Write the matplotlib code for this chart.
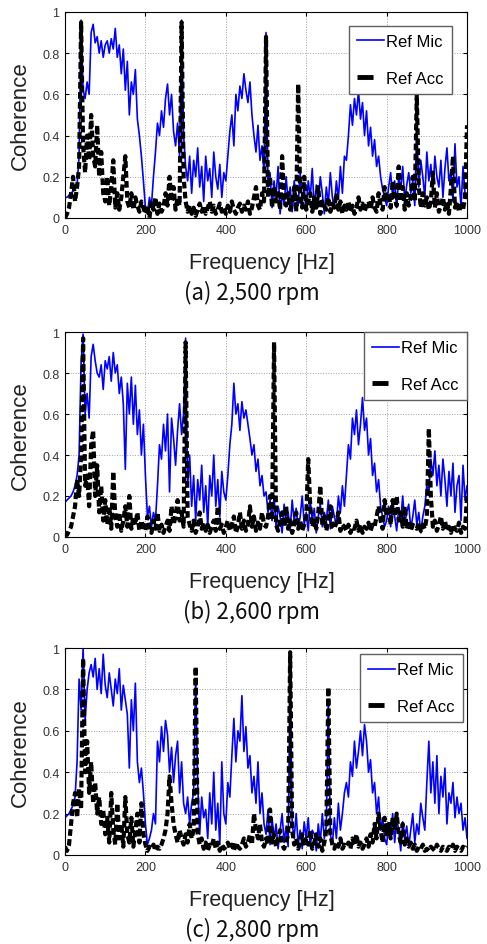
import numpy as np
import matplotlib
matplotlib.use("Agg")
from matplotlib import pyplot as plt
from matplotlib.lines import Line2D

freq = np.arange(0, 1001, 5)

# (a) 2,500 rpm
mic_2500 = [
    0.10, 0.10, 0.11, 0.12, 0.13, 0.14, 0.16, 0.30, 0.96, 0.62, 0.58, 0.66, 0.60, 0.90, 0.94, 0.85, 0.88, 0.80, 0.86, 0.78,
    0.84, 0.86, 0.80, 0.87, 0.82, 0.92, 0.78, 0.84, 0.70, 0.82, 0.62, 0.76, 0.50, 0.66, 0.60, 0.72, 0.48, 0.40, 0.30, 0.18,
    0.05, 0.02, 0.10, 0.06, 0.20, 0.32, 0.46, 0.40, 0.52, 0.44, 0.58, 0.65, 0.50, 0.60, 0.42, 0.35, 0.46, 0.30, 0.96, 0.40,
    0.25, 0.18, 0.30, 0.12, 0.28, 0.20, 0.34, 0.15, 0.25, 0.08, 0.30, 0.18, 0.24, 0.10, 0.32, 0.20, 0.14, 0.26, 0.10, 0.22,
    0.18, 0.30, 0.42, 0.50, 0.35, 0.60, 0.52, 0.64, 0.58, 0.70, 0.62, 0.56, 0.66, 0.50, 0.40, 0.32, 0.45, 0.28, 0.35, 0.22,
    0.90, 0.15, 0.22, 0.05, 0.18, 0.10, 0.25, 0.02, 0.12, 0.06, 0.20, 0.08, 0.15, 0.03, 0.18, 0.10, 0.06, 0.22, 0.08, 0.14,
    0.05, 0.18, 0.10, 0.24, 0.04, 0.16, 0.08, 0.20, 0.12, 0.02, 0.15, 0.07, 0.22, 0.10, 0.05, 0.18, 0.09, 0.25, 0.12, 0.30,
    0.28, 0.40, 0.55, 0.45, 0.58, 0.50, 0.62, 0.48, 0.56, 0.40, 0.52, 0.35, 0.44, 0.30, 0.38, 0.25, 0.30, 0.20, 0.14, 0.10,
    0.06, 0.15, 0.22, 0.10, 0.18, 0.05, 0.20, 0.14, 0.25, 0.08, 0.16, 0.22, 0.12, 0.18, 0.06, 0.45, 0.15, 0.28, 0.20, 0.10,
    0.32, 0.18, 0.26, 0.12, 0.30, 0.20, 0.15, 0.28, 0.10, 0.24, 0.34, 0.18, 0.22, 0.08, 0.36, 0.15, 0.20, 0.05, 0.25, 0.12,
    0.10,
]
acc_2500 = [
    0.00, 0.02, 0.05, 0.12, 0.20, 0.08, 0.15, 0.25, 0.95, 0.35, 0.22, 0.40, 0.28, 0.50, 0.30, 0.25, 0.45, 0.20, 0.32, 0.12,
    0.08, 0.20, 0.06, 0.15, 0.28, 0.05, 0.12, 0.04, 0.10, 0.20, 0.30, 0.08, 0.05, 0.12, 0.04, 0.10, 0.06, 0.03, 0.08, 0.05,
    0.02, 0.06, 0.00, 0.08, 0.04, 0.10, 0.02, 0.07, 0.03, 0.05, 0.12, 0.06, 0.20, 0.08, 0.15, 0.04, 0.10, 0.06, 0.95, 0.20,
    0.08, 0.03, 0.06, 0.02, 0.05, 0.01, 0.04, 0.07, 0.03, 0.06, 0.02, 0.05, 0.08, 0.03, 0.06, 0.02, 0.04, 0.07, 0.03, 0.05,
    0.02, 0.06, 0.03, 0.08, 0.04, 0.02, 0.05, 0.07, 0.03, 0.06, 0.04, 0.08, 0.02, 0.05, 0.10, 0.15, 0.06, 0.04, 0.12, 0.08,
    0.88, 0.10, 0.20, 0.05, 0.15, 0.08, 0.12, 0.04, 0.30, 0.10, 0.06, 0.12, 0.04, 0.08, 0.15, 0.03, 0.65, 0.10, 0.05, 0.20,
    0.04, 0.08, 0.12, 0.03, 0.10, 0.05, 0.15, 0.02, 0.08, 0.06, 0.04, 0.10, 0.03, 0.07, 0.05, 0.12, 0.04, 0.08, 0.02, 0.06,
    0.04, 0.08, 0.03, 0.06, 0.02, 0.05, 0.10, 0.04, 0.07, 0.03, 0.06, 0.08, 0.04, 0.10, 0.05, 0.03, 0.12, 0.06, 0.04, 0.15,
    0.08, 0.12, 0.05, 0.18, 0.10, 0.06, 0.25, 0.08, 0.15, 0.04, 0.12, 0.06, 0.10, 0.20, 0.08, 0.60, 0.15, 0.05, 0.12, 0.06,
    0.10, 0.04, 0.08, 0.22, 0.05, 0.12, 0.03, 0.06, 0.10, 0.04, 0.08, 0.02, 0.15, 0.30, 0.05, 0.08, 0.03, 0.06, 0.04, 0.10,
    0.45,
]

# (b) 2,600 rpm
mic_2600 = [
    0.17, 0.18, 0.19, 0.20, 0.22, 0.25, 0.30, 0.40, 0.85, 0.99, 0.60, 0.70, 0.58, 0.88, 0.94, 0.86, 0.80, 0.78, 0.84, 0.72,
    0.86, 0.82, 0.88, 0.76, 0.90, 0.80, 0.84, 0.70, 0.78, 0.65, 0.33, 0.75, 0.60, 0.78, 0.55, 0.74, 0.50, 0.62, 0.40, 0.55,
    0.30, 0.10, 0.15, 0.05, 0.12, 0.08, 0.25, 0.45, 0.38, 0.55, 0.42, 0.60, 0.22, 0.58, 0.48, 0.35, 0.52, 0.65, 0.50, 0.60,
    0.97, 0.25, 0.40, 0.15, 0.30, 0.08, 0.28, 0.18, 0.35, 0.12, 0.25, 0.05, 0.30, 0.20, 0.40, 0.15, 0.28, 0.10, 0.32, 0.22,
    0.18, 0.30, 0.45, 0.55, 0.75, 0.60, 0.65, 0.52, 0.66, 0.58, 0.62, 0.55, 0.48, 0.40, 0.45, 0.32, 0.38, 0.25, 0.30, 0.20,
    0.22, 0.12, 0.18, 0.08, 0.20, 0.05, 0.15, 0.10, 0.02, 0.16, 0.06, 0.12, 0.03, 0.18, 0.08, 0.14, 0.04, 0.10, 0.20, 0.06,
    0.12, 0.03, 0.18, 0.08, 0.14, 0.02, 0.10, 0.16, 0.05, 0.12, 0.08, 0.18, 0.04, 0.15, 0.10, 0.06, 0.20, 0.12, 0.25, 0.15,
    0.30, 0.45, 0.38, 0.58, 0.50, 0.62, 0.45, 0.55, 0.68, 0.52, 0.58, 0.40, 0.48, 0.30, 0.36, 0.22, 0.28, 0.15, 0.10, 0.05,
    0.08, 0.15, 0.05, 0.18, 0.10, 0.03, 0.14, 0.08, 0.20, 0.06, 0.12, 0.16, 0.04, 0.10, 0.18, 0.06, 0.12, 0.02, 0.10, 0.15,
    0.25, 0.22, 0.38, 0.30, 0.42, 0.25, 0.35, 0.20, 0.38, 0.28, 0.15, 0.32, 0.20, 0.36, 0.12, 0.25, 0.30, 0.08, 0.35, 0.18,
    0.25,
]
acc_2600 = [
    0.02, 0.01, 0.03, 0.05, 0.10, 0.15, 0.28, 0.20, 0.40, 0.97, 0.25, 0.30, 0.15, 0.45, 0.52, 0.20, 0.35, 0.12, 0.25, 0.08,
    0.18, 0.06, 0.15, 0.04, 0.32, 0.10, 0.05, 0.12, 0.03, 0.08, 0.15, 0.05, 0.20, 0.04, 0.10, 0.06, 0.12, 0.03, 0.08, 0.05,
    0.03, 0.10, 0.05, 0.02, 0.08, 0.04, 0.12, 0.03, 0.06, 0.02, 0.05, 0.08, 0.03, 0.15, 0.06, 0.10, 0.18, 0.08, 0.12, 0.05,
    0.95, 0.10, 0.06, 0.03, 0.08, 0.02, 0.05, 0.12, 0.04, 0.07, 0.03, 0.06, 0.02, 0.05, 0.08, 0.03, 0.15, 0.04, 0.06, 0.02,
    0.05, 0.08, 0.03, 0.06, 0.10, 0.02, 0.05, 0.12, 0.04, 0.08, 0.03, 0.06, 0.15, 0.05, 0.10, 0.03, 0.07, 0.04, 0.12, 0.06,
    0.05, 0.10, 0.20, 0.08, 0.95, 0.06, 0.03, 0.08, 0.12, 0.05, 0.15, 0.04, 0.08, 0.02, 0.06, 0.12, 0.04, 0.08, 0.03, 0.06,
    0.10, 0.38, 0.15, 0.05, 0.08, 0.04, 0.12, 0.25, 0.06, 0.10, 0.03, 0.08, 0.15, 0.05, 0.04, 0.07, 0.12, 0.03, 0.06, 0.05,
    0.03, 0.06, 0.02, 0.05, 0.04, 0.08, 0.03, 0.06, 0.02, 0.05, 0.04, 0.07, 0.03, 0.06, 0.05, 0.10, 0.15, 0.08, 0.04, 0.18,
    0.10, 0.15, 0.06, 0.18, 0.10, 0.20, 0.08, 0.12, 0.05, 0.15, 0.04, 0.08, 0.03, 0.06, 0.05, 0.04, 0.07, 0.03, 0.06, 0.04,
    0.10, 0.53, 0.20, 0.05, 0.08, 0.03, 0.06, 0.10, 0.04, 0.08, 0.03, 0.05, 0.02, 0.06, 0.04, 0.03, 0.07, 0.02, 0.05, 0.04,
    0.20,
]

# (c) 2,800 rpm
mic_2800 = [
    0.18, 0.19, 0.20, 0.22, 0.24, 0.28, 0.45, 0.85, 0.70, 1.00, 0.65, 0.80, 0.88, 0.92, 0.86, 0.95, 0.80, 0.90, 0.78, 0.97,
    0.82, 0.76, 0.88, 0.80, 0.72, 0.85, 0.78, 0.90, 0.70, 0.82, 0.75, 0.68, 0.42, 0.75, 0.60, 0.83, 0.45, 0.35, 0.42, 0.30,
    0.15, 0.05, 0.08, 0.12, 0.20, 0.15, 0.55, 0.45, 0.62, 0.50, 0.65, 0.58, 0.40, 0.52, 0.35, 0.48, 0.55, 0.30, 0.45, 0.25,
    0.20, 0.28, 0.15, 0.25, 0.30, 0.85, 0.35, 0.10, 0.28, 0.18, 0.22, 0.08, 0.30, 0.15, 0.40, 0.12, 0.25, 0.05, 0.45, 0.20,
    0.15, 0.35, 0.28, 0.48, 0.66, 0.45, 0.60, 0.55, 0.77, 0.50, 0.62, 0.42, 0.48, 0.30, 0.38, 0.25, 0.45, 0.20, 0.30, 0.15,
    0.10, 0.22, 0.05, 0.18, 0.08, 0.15, 0.03, 0.12, 0.20, 0.06, 0.14, 0.04, 0.90, 0.15, 0.08, 0.20, 0.05, 0.12, 0.03, 0.16,
    0.08, 0.18, 0.04, 0.12, 0.10, 0.02, 0.15, 0.06, 0.20, 0.08, 0.14, 0.75, 0.10, 0.05, 0.18, 0.08, 0.25, 0.12, 0.20, 0.30,
    0.35, 0.28, 0.45, 0.38, 0.55, 0.42, 0.50, 0.60, 0.48, 0.63, 0.55, 0.40, 0.46, 0.30, 0.35, 0.20, 0.28, 0.12, 0.18, 0.08,
    0.05, 0.15, 0.10, 0.20, 0.06, 0.18, 0.12, 0.02, 0.16, 0.08, 0.14, 0.04, 0.12, 0.20, 0.06, 0.15, 0.10, 0.25, 0.18, 0.12,
    0.35, 0.55, 0.30, 0.45, 0.25, 0.48, 0.20, 0.38, 0.28, 0.42, 0.15, 0.30, 0.25, 0.35, 0.18, 0.28, 0.20, 0.25, 0.12, 0.18,
    0.08,
]
acc_2800 = [
    0.04, 0.02, 0.05, 0.15, 0.25, 0.30, 0.18, 0.32, 0.22, 0.95, 0.40, 0.55, 0.30, 0.45, 0.25, 0.35, 0.20, 0.28, 0.15, 0.22,
    0.10, 0.18, 0.06, 0.30, 0.12, 0.05, 0.25, 0.08, 0.15, 0.04, 0.28, 0.10, 0.06, 0.18, 0.04, 0.12, 0.20, 0.06, 0.25, 0.10,
    0.05, 0.02, 0.04, 0.03, 0.05, 0.02, 0.04, 0.03, 0.05, 0.08, 0.12, 0.20, 0.38, 0.25, 0.15, 0.10, 0.06, 0.12, 0.08, 0.05,
    0.10, 0.06, 0.15, 0.08, 0.12, 0.91, 0.10, 0.05, 0.08, 0.03, 0.06, 0.02, 0.05, 0.04, 0.08, 0.03, 0.06, 0.02, 0.05, 0.03,
    0.04, 0.06, 0.03, 0.05, 0.02, 0.06, 0.04, 0.03, 0.05, 0.08, 0.04, 0.06, 0.10, 0.05, 0.20, 0.12, 0.08, 0.15, 0.06, 0.04,
    0.08, 0.05, 0.22, 0.06, 0.10, 0.04, 0.08, 0.12, 0.05, 0.03, 0.06, 0.10, 0.98, 0.12, 0.05, 0.08, 0.03, 0.06, 0.10, 0.04,
    0.08, 0.05, 0.12, 0.03, 0.06, 0.10, 0.04, 0.08, 0.02, 0.06, 0.12, 0.81, 0.10, 0.05, 0.03, 0.06, 0.04, 0.08, 0.03, 0.05,
    0.04, 0.06, 0.03, 0.08, 0.05, 0.10, 0.04, 0.06, 0.03, 0.05, 0.08, 0.04, 0.10, 0.06, 0.15, 0.08, 0.20, 0.12, 0.06, 0.18,
    0.10, 0.15, 0.08, 0.18, 0.12, 0.20, 0.10, 0.06, 0.15, 0.05, 0.08, 0.04, 0.06, 0.03, 0.05, 0.02, 0.04, 0.03, 0.05, 0.02,
    0.03, 0.02, 0.04, 0.03, 0.02, 0.05, 0.03, 0.02, 0.04, 0.03, 0.02, 0.04, 0.03, 0.05, 0.02, 0.04, 0.03, 0.02, 0.04, 0.03,
    0.04,
]

captions = ["(a) 2,500 rpm", "(b) 2,600 rpm", "(c) 2,800 rpm"]
yticks = [0, 0.2, 0.4, 0.6, 0.8, 1]
ytick_labels = ["0", "0.2", "0.4", "0.6", "0.8", "1"]
xticks = [0, 200, 400, 600, 800, 1000]

plt.rcParams['font.family'] = ['Liberation Sans', 'DejaVu Sans']

fig = plt.figure(figsize=(4.87, 9.45), dpi=100)

# axes boxes in figure fractions (left, bottom, width, height)
boxes = [
    (0.1335, 0.7683, 0.8255, 0.2180),
    (0.1335, 0.4307, 0.8255, 0.2169),
    (0.1335, 0.0942, 0.8255, 0.2190),
]
legend_anchor = [(0.9627, 0.932), (1.0, 1.0), (0.990, 0.971)]
caption_y = [0.690, 0.3524, 0.0159]

panels = [(mic_2500, acc_2500), (mic_2600, acc_2600), (mic_2800, acc_2800)]

for i, (mic, acc) in enumerate(panels):
    ax = fig.add_axes(boxes[i])
    ax.plot(freq, mic, color='#0000ff', lw=1.2, zorder=2)
    ax.plot(freq, acc, color='black', lw=3.0, dashes=(1.6, 0.8), zorder=3)

    ax.set_xlim(0, 1000)
    ax.set_ylim(0, 1)
    ax.set_xticks(xticks)
    ax.set_yticks(yticks)
    ax.set_yticklabels(ytick_labels)
    ax.grid(True, linestyle=':', color='#a0a0a0', lw=0.7)
    ax.tick_params(direction='in', top=True, right=True, length=3,
                   labelsize=9, labelcolor='#333333', pad=4)
    for s in ax.spines.values():
        s.set_linewidth(0.8)

    ax.set_ylabel("Coherence", fontsize=16, color='#222222')
    ax.yaxis.set_label_coords(-0.085, 0.5)
    ax.set_xlabel("Frequency [Hz]", fontsize=15.5, color='#222222')
    ax.xaxis.set_label_coords(0.49, -0.165)

    handles = [
        Line2D([], [], color='#0000ff', lw=1.2),
        Line2D([], [], color='black', lw=3.5, dashes=(3.3, 10)),
    ]
    leg = ax.legend(handles, ["Ref Mic", "Ref Acc"], loc='upper right',
                    bbox_to_anchor=legend_anchor[i], borderaxespad=0,
                    fontsize=12, fancybox=False, framealpha=1,
                    edgecolor='#606060', handlelength=1.6, handletextpad=0.15,
                    labelspacing=1.3, borderpad=0.5)
    leg.get_frame().set_linewidth(1.0)

    fig.text(0.517, caption_y[i], captions[i], ha='center', va='center',
             fontsize=16, family=['Noto Sans CJK KR', 'DejaVu Sans'],
             color='#111111')

fig.savefig("out.png", dpi=100)
